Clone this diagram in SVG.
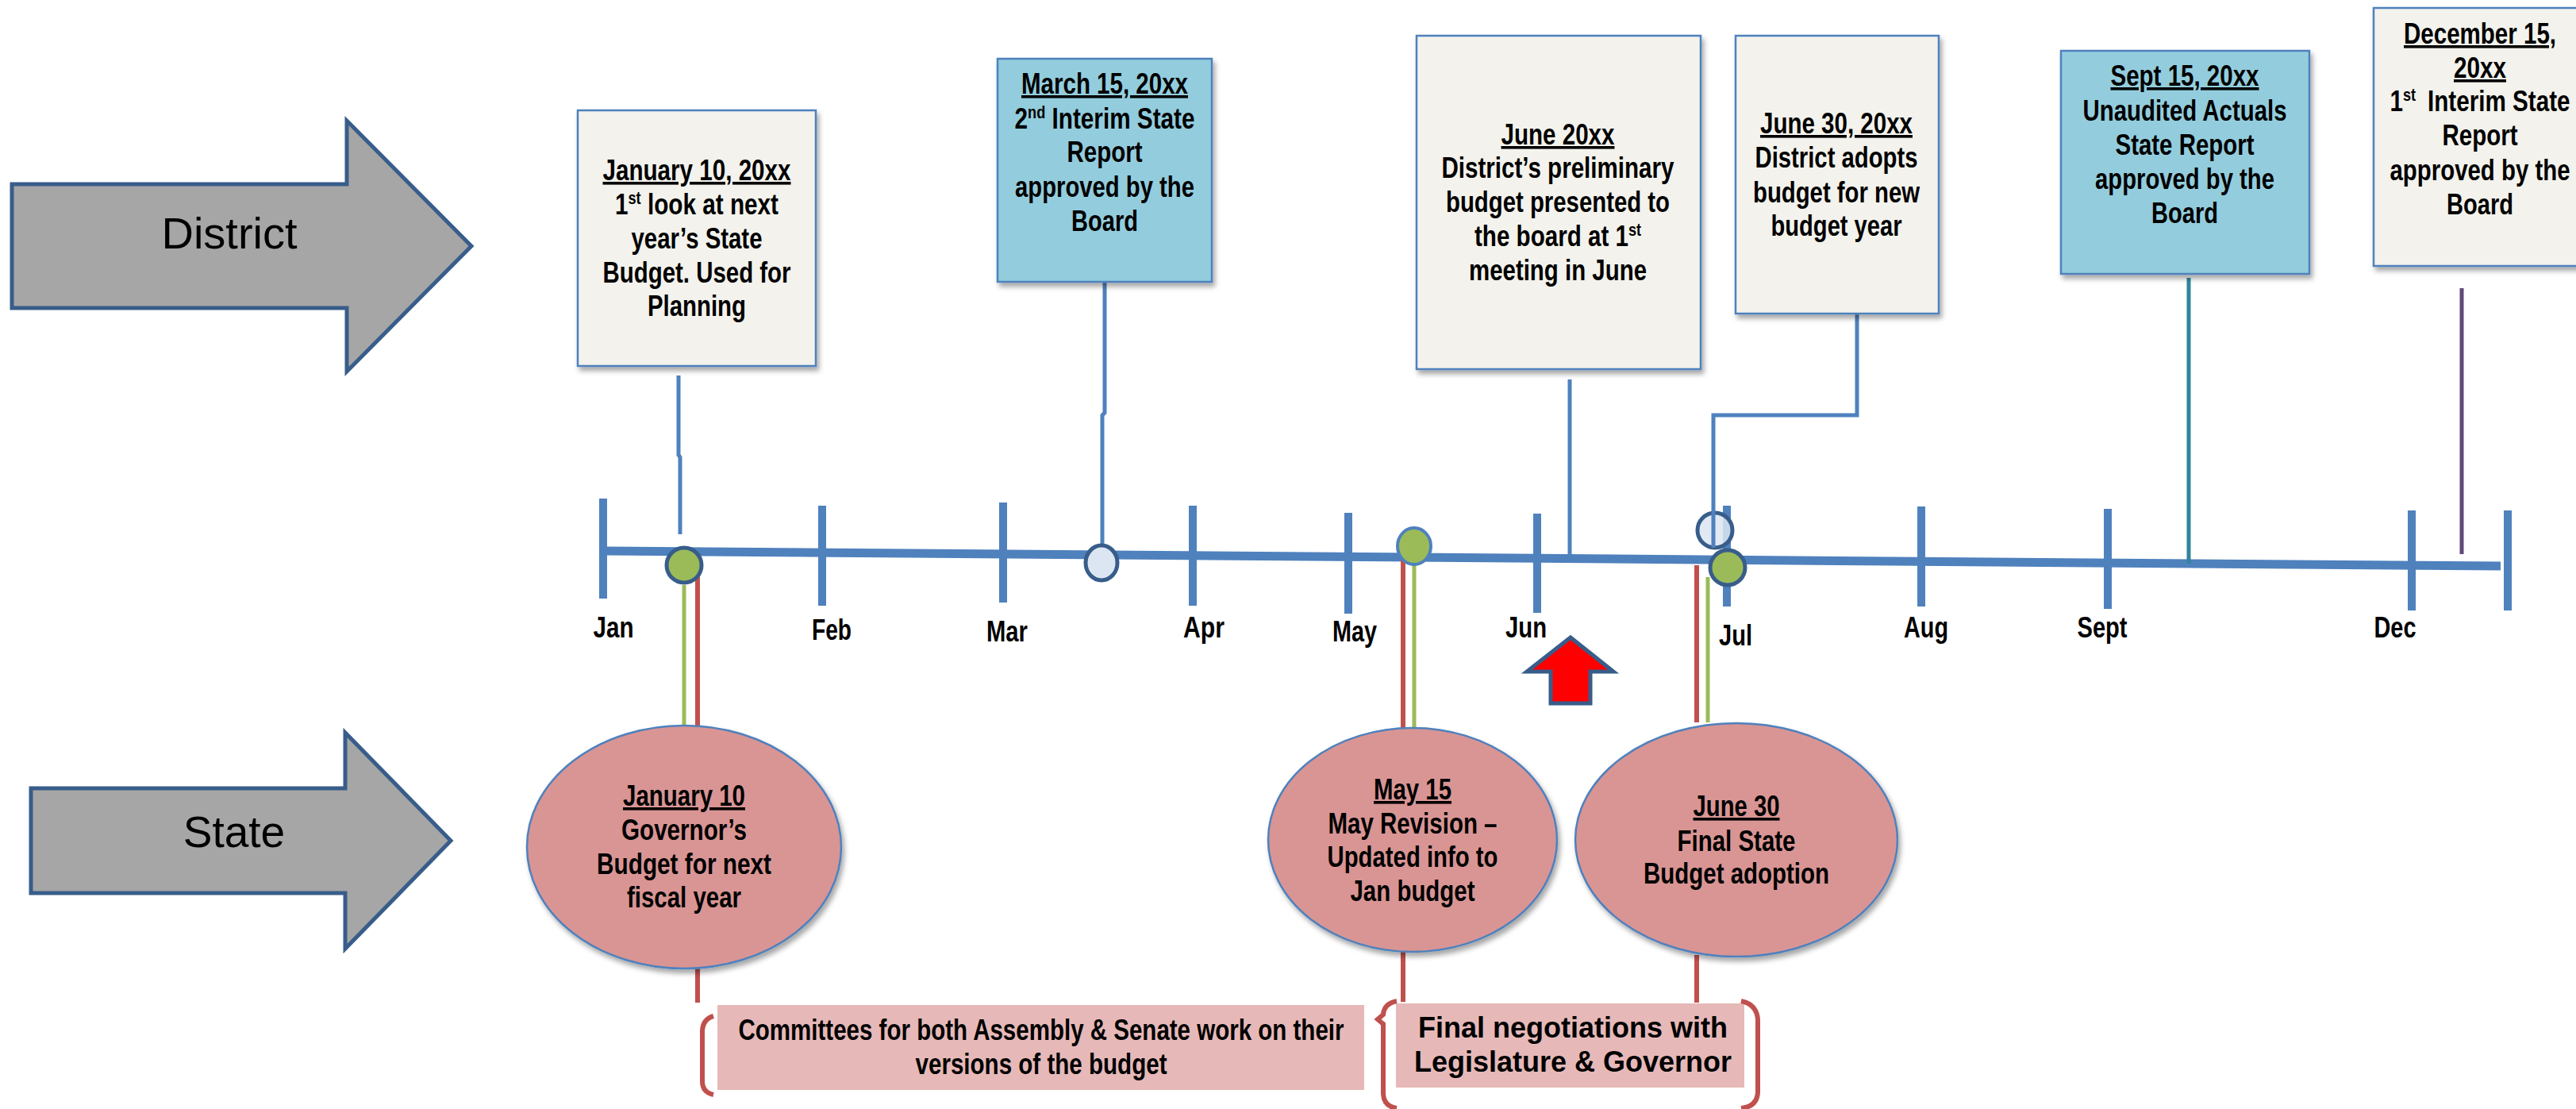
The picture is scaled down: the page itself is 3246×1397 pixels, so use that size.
<svg xmlns="http://www.w3.org/2000/svg" width="3246" height="1397" viewBox="0 0 3246 1397">
<defs>
<filter id="sh" x="-10%" y="-10%" width="130%" height="130%">
<feDropShadow dx="3" dy="5" stdDeviation="3" flood-color="#000" flood-opacity="0.35"/>
</filter>
<style>
.bg{fill:#ffffff}
.arrow{fill:#A6A6A6;stroke:#385D8A;stroke-width:5}
.big{font-family:"Liberation Sans",Arial,sans-serif;fill:#000;text-anchor:middle}
.cream{fill:#F3F2EC;stroke:#4F81BD;stroke-width:2.5;filter:url(#sh)}
.blue{fill:#93CDDD;stroke:#4F81BD;stroke-width:2.5;filter:url(#sh)}
.ell{fill:#D99594;stroke:#4F81BD;stroke-width:2.5;filter:url(#sh)}
.t{font-family:"Liberation Sans Narrow","Liberation Sans",Arial,sans-serif;font-weight:bold;font-size:36px;fill:#000;text-anchor:middle}
.tw{font-family:"Liberation Sans",Arial,sans-serif;font-weight:bold;font-size:36px;fill:#000;text-anchor:middle}
.u{text-decoration:underline}
.sup{font-size:22px}
.tick{stroke:#4F81BD;stroke-width:10}
.axis{stroke:#4F81BD;stroke-width:11}
.conn{stroke:#4F81BD;stroke-width:5;fill:none}
.red{stroke:#C0504D;stroke-width:6;fill:none}
.grn{stroke:#9BBB59;stroke-width:5;fill:none}
.brk{stroke:#C0504D;stroke-width:6;fill:none}
.dotg{fill:#9BBB59;stroke:#385D8A;stroke-width:5}
.dotl{fill:#DCE6F2;stroke:#385D8A;stroke-width:5}
.pill{fill:#E6B9B8}
</style>
</defs>
<rect class="bg" x="0" y="0" width="3246" height="1397"/>

<g id="district-arrow">
<path class="arrow" d="M15,232 L437,232 L437,152 L594,310 L437,468 L437,388 L15,388 Z"/>
<text class="big" x="289" y="313" font-size="56">District</text>
</g>
<g id="state-arrow">
<path class="arrow" d="M39,993 L435,993 L435,923 L568,1059 L435,1195 L435,1125 L39,1125 Z"/>
<text class="big" x="295" y="1067" font-size="55">State</text>
</g>

<g id="timeline">
<line class="axis" x1="760" y1="694" x2="3151" y2="713"/>
<line class="tick" x1="760" y1="628" x2="760" y2="754"/>
<line class="tick" x1="1036" y1="637" x2="1036" y2="763"/>
<line class="tick" x1="1264" y1="633" x2="1264" y2="759"/>
<line class="tick" x1="1503" y1="637" x2="1503" y2="763"/>
<line class="tick" x1="1699" y1="646" x2="1699" y2="773"/>
<line class="tick" x1="1937" y1="647" x2="1937" y2="772"/>
<line class="tick" x1="2176" y1="637" x2="2176" y2="764"/>
<line class="tick" x1="2421" y1="638" x2="2421" y2="764"/>
<line class="tick" x1="2656" y1="641" x2="2656" y2="767"/>
<line class="tick" x1="3039" y1="643" x2="3039" y2="769"/>
<line class="tick" x1="3160" y1="643" x2="3160" y2="769"/>
<text class="t" x="773" y="803" textLength="51" lengthAdjust="spacingAndGlyphs">Jan</text>
<text class="t" x="1048" y="806" textLength="50" lengthAdjust="spacingAndGlyphs">Feb</text>
<text class="t" x="1269" y="808" textLength="52" lengthAdjust="spacingAndGlyphs">Mar</text>
<text class="t" x="1517" y="803" textLength="52" lengthAdjust="spacingAndGlyphs">Apr</text>
<text class="t" x="1707" y="808" textLength="56" lengthAdjust="spacingAndGlyphs">May</text>
<text class="t" x="1923" y="803" textLength="52" lengthAdjust="spacingAndGlyphs">Jun</text>
<text class="t" x="2187" y="813" textLength="42" lengthAdjust="spacingAndGlyphs">Jul</text>
<text class="t" x="2427" y="803" textLength="56" lengthAdjust="spacingAndGlyphs">Aug</text>
<text class="t" x="2649" y="803" textLength="63" lengthAdjust="spacingAndGlyphs">Sept</text>
<text class="t" x="3018" y="803" textLength="53" lengthAdjust="spacingAndGlyphs">Dec</text>
</g>

<g id="connectors">
<path class="conn" d="M855,473 L855,573 L857,576 L857,673"/>
<path class="conn" d="M1392,355 L1392,520 L1389,523 L1389,686"/>
<path class="conn" d="M1978,478 L1978,699"/>
<path class="conn" style="stroke:#31859C" d="M2758,350 L2758,710"/>
<path class="conn" style="stroke:#5F497A" d="M3102,363 L3102,698"/>
<path class="red" d="M879,723 L879,914 M879,1220 L879,1263"/>
<path class="grn" d="M862,737 L862,914"/>
<path class="red" d="M1768,704 L1768,917 M1768,1199 L1768,1262"/>
<path class="grn" d="M1782,712 L1782,917"/>
<path class="red" d="M2138,712 L2138,910 M2138,1203 L2138,1263"/>
<path class="grn" d="M2152,727 L2152,910"/>
</g>

<g id="markers">
<circle id="dot-jan" class="dotg" cx="862" cy="712" r="22"/>
<ellipse id="dot-mar" class="dotl" cx="1388" cy="709" rx="20" ry="22"/>
<ellipse id="dot-may" class="dotg" style="stroke:#4F81BD;stroke-width:4" cx="1782" cy="688" rx="21" ry="23"/>
<circle id="dot-jun30" class="dotl" style="fill-opacity:0.85" cx="2161" cy="668" r="22"/>
<path class="conn" d="M2340,395 L2340,523 L2159,523 L2159,690"/>
<circle id="dot-jul" class="dotg" cx="2177" cy="715" r="22"/>
</g>

<g id="red-arrow">
<path d="M1979,803 L2033,846 L2004,846 L2004,886 L1954,886 L1954,846 L1924,846 Z" fill="#FF0000" stroke="#385D8A" stroke-width="5" stroke-linejoin="miter"/>
</g>

<g id="box-jan10">
<rect class="cream" x="728" y="139" width="300" height="322"/>
<text class="t u" x="878" y="227" textLength="237" lengthAdjust="spacingAndGlyphs">January 10, 20xx</text>
<text class="t" x="878" y="270" textLength="206" lengthAdjust="spacingAndGlyphs">1<tspan class="sup" dy="-13">st</tspan><tspan dy="13"> look at next</tspan></text>
<text class="t" x="878" y="313" textLength="165" lengthAdjust="spacingAndGlyphs">year’s State</text>
<text class="t" x="878" y="356" textLength="237" lengthAdjust="spacingAndGlyphs">Budget. Used for</text>
<text class="t" x="878" y="398" textLength="124" lengthAdjust="spacingAndGlyphs">Planning</text>
</g>

<g id="box-mar15">
<rect class="blue" x="1257" y="74" width="270" height="281"/>
<text class="t u" x="1392" y="118" textLength="210" lengthAdjust="spacingAndGlyphs">March 15, 20xx</text>
<text class="t" x="1392" y="162" textLength="227" lengthAdjust="spacingAndGlyphs">2<tspan class="sup" dy="-13">nd</tspan><tspan dy="13"> Interim State</tspan></text>
<text class="t" x="1392" y="204" textLength="95" lengthAdjust="spacingAndGlyphs">Report</text>
<text class="t" x="1392" y="248" textLength="226" lengthAdjust="spacingAndGlyphs">approved by the</text>
<text class="t" x="1392" y="291" textLength="84" lengthAdjust="spacingAndGlyphs">Board</text>
</g>

<g id="box-june">
<rect class="cream" x="1785" y="45" width="358" height="420"/>
<text class="t u" x="1963" y="182" textLength="143" lengthAdjust="spacingAndGlyphs">June 20xx</text>
<text class="t" x="1963" y="224" textLength="293" lengthAdjust="spacingAndGlyphs">District’s preliminary</text>
<text class="t" x="1963" y="267" textLength="282" lengthAdjust="spacingAndGlyphs">budget presented to</text>
<text class="t" x="1963" y="310" textLength="210" lengthAdjust="spacingAndGlyphs">the board at 1<tspan class="sup" dy="-13">st</tspan></text>
<text class="t" x="1963" y="353" textLength="224" lengthAdjust="spacingAndGlyphs">meeting in June</text>
</g>

<g id="box-jun30">
<rect class="cream" x="2187" y="45" width="256" height="350"/>
<text class="t u" x="2314" y="168" textLength="192" lengthAdjust="spacingAndGlyphs">June 30, 20xx</text>
<text class="t" x="2314" y="211" textLength="205" lengthAdjust="spacingAndGlyphs">District adopts</text>
<text class="t" x="2314" y="255" textLength="210" lengthAdjust="spacingAndGlyphs">budget for new</text>
<text class="t" x="2314" y="297" textLength="165" lengthAdjust="spacingAndGlyphs">budget year</text>
</g>

<g id="box-sept15">
<rect class="blue" x="2597" y="64" width="313" height="281"/>
<text class="t u" x="2753" y="108" textLength="187" lengthAdjust="spacingAndGlyphs">Sept 15, 20xx</text>
<text class="t" x="2753" y="152" textLength="257" lengthAdjust="spacingAndGlyphs">Unaudited Actuals</text>
<text class="t" x="2753" y="195" textLength="175" lengthAdjust="spacingAndGlyphs">State Report</text>
<text class="t" x="2753" y="238" textLength="226" lengthAdjust="spacingAndGlyphs">approved by the</text>
<text class="t" x="2753" y="281" textLength="84" lengthAdjust="spacingAndGlyphs">Board</text>
</g>

<g id="box-dec15">
<rect class="cream" x="2991" y="10" width="268" height="325"/>
<text class="t u" x="3125" y="55" textLength="192" lengthAdjust="spacingAndGlyphs">December 15,</text>
<text class="t u" x="3125" y="98" textLength="66" lengthAdjust="spacingAndGlyphs">20xx</text>
<text class="t" x="3125" y="140" textLength="227" lengthAdjust="spacingAndGlyphs">1<tspan class="sup" dy="-13">st</tspan><tspan dy="13" dx="8"> Interim State</tspan></text>
<text class="t" x="3125" y="183" textLength="95" lengthAdjust="spacingAndGlyphs">Report</text>
<text class="t" x="3125" y="227" textLength="227" lengthAdjust="spacingAndGlyphs">approved by the</text>
<text class="t" x="3125" y="270" textLength="84" lengthAdjust="spacingAndGlyphs">Board</text>
</g>

<g id="ell-jan10">
<ellipse class="ell" cx="862" cy="1067" rx="198" ry="153"/>
<text class="t u" x="862" y="1015" textLength="154" lengthAdjust="spacingAndGlyphs">January 10</text>
<text class="t" x="862" y="1058" textLength="158" lengthAdjust="spacingAndGlyphs">Governor’s</text>
<text class="t" x="862" y="1101" textLength="220" lengthAdjust="spacingAndGlyphs">Budget for next</text>
<text class="t" x="862" y="1143" textLength="144" lengthAdjust="spacingAndGlyphs">fiscal year</text>
</g>

<g id="ell-may15">
<ellipse class="ell" cx="1780" cy="1058" rx="182" ry="141"/>
<text class="t u" x="1780" y="1007" textLength="98" lengthAdjust="spacingAndGlyphs">May 15</text>
<text class="t" x="1780" y="1050" textLength="213" lengthAdjust="spacingAndGlyphs">May Revision –</text>
<text class="t" x="1780" y="1092" textLength="215" lengthAdjust="spacingAndGlyphs">Updated info to</text>
<text class="t" x="1780" y="1135" textLength="157" lengthAdjust="spacingAndGlyphs">Jan budget</text>
</g>

<g id="ell-jun30">
<ellipse class="ell" cx="2188" cy="1058" rx="203" ry="147"/>
<text class="t u" x="2188" y="1028" textLength="109" lengthAdjust="spacingAndGlyphs">June 30</text>
<text class="t" x="2188" y="1072" textLength="149" lengthAdjust="spacingAndGlyphs">Final State</text>
<text class="t" x="2188" y="1113" textLength="234" lengthAdjust="spacingAndGlyphs">Budget adoption</text>
</g>

<g id="committees">
<rect class="pill" x="904" y="1266" width="815" height="107"/>
<path class="brk" d="M899,1280 Q885,1284 885,1300 L885,1362 Q885,1376 899,1379"/>
<text class="t" x="1312" y="1310" textLength="763" lengthAdjust="spacingAndGlyphs">Committees for both Assembly &amp; Senate work on their</text>
<text class="t" x="1312" y="1353" textLength="317" lengthAdjust="spacingAndGlyphs">versions of the budget</text>
</g>

<g id="final-negotiations">
<rect class="pill" x="1759" y="1264" width="439" height="106"/>
<path class="brk" d="M1760,1261 Q1744,1264 1743,1278 L1736,1284 L1743,1290 L1743,1378 Q1744,1394 1760,1396"/>
<path class="brk" d="M2194,1261 Q2214,1265 2215,1285 L2215,1376 Q2214,1394 2194,1396"/>
<text class="tw" x="1982" y="1307" textLength="390" lengthAdjust="spacingAndGlyphs">Final negotiations with</text>
<text class="tw" x="1982" y="1350" textLength="400" lengthAdjust="spacingAndGlyphs">Legislature &amp; Governor</text>
</g>
</svg>
